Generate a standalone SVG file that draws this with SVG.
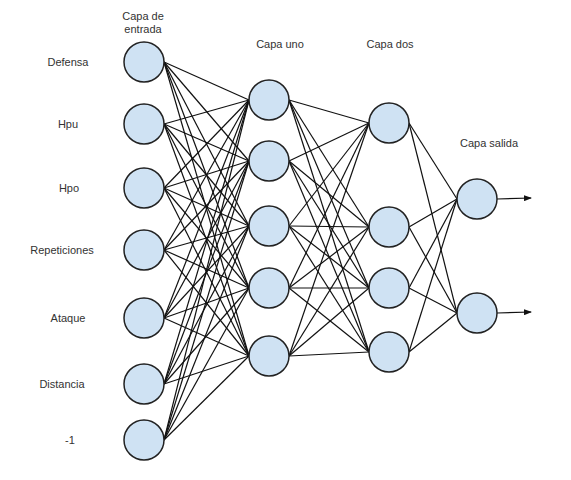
<svg xmlns="http://www.w3.org/2000/svg" width="571" height="480" viewBox="0 0 571 480">
<style>
.n{fill:#cfe2f3;stroke:#222;stroke-width:1.5}
.c line{stroke:#111;stroke-width:1.2}
text{font-family:"Liberation Sans",Arial,sans-serif;font-size:11px;fill:#333;text-anchor:middle}
</style>
<defs>
<marker id="ah" markerWidth="8" markerHeight="6" refX="7" refY="3" orient="auto" markerUnits="userSpaceOnUse">
<path d="M0,0 L8,3 L0,6 Z" fill="#111"/>
</marker>
</defs>
<rect width="571" height="480" fill="#fff"/>
<g id="connectors" class="c">
<line x1="164" y1="62" x2="249" y2="100"/><line x1="164" y1="62" x2="249" y2="161"/><line x1="164" y1="62" x2="249" y2="226"/><line x1="164" y1="62" x2="249" y2="288"/><line x1="164" y1="62" x2="249" y2="356"/>
<line x1="164" y1="124" x2="249" y2="100"/><line x1="164" y1="124" x2="249" y2="161"/><line x1="164" y1="124" x2="249" y2="226"/><line x1="164" y1="124" x2="249" y2="288"/><line x1="164" y1="124" x2="249" y2="356"/>
<line x1="164" y1="188" x2="249" y2="100"/><line x1="164" y1="188" x2="249" y2="161"/><line x1="164" y1="188" x2="249" y2="226"/><line x1="164" y1="188" x2="249" y2="288"/><line x1="164" y1="188" x2="249" y2="356"/>
<line x1="164" y1="250" x2="249" y2="100"/><line x1="164" y1="250" x2="249" y2="161"/><line x1="164" y1="250" x2="249" y2="226"/><line x1="164" y1="250" x2="249" y2="288"/><line x1="164" y1="250" x2="249" y2="356"/>
<line x1="164" y1="318" x2="249" y2="100"/><line x1="164" y1="318" x2="249" y2="161"/><line x1="164" y1="318" x2="249" y2="226"/><line x1="164" y1="318" x2="249" y2="288"/><line x1="164" y1="318" x2="249" y2="356"/>
<line x1="164" y1="384" x2="249" y2="100"/><line x1="164" y1="384" x2="249" y2="161"/><line x1="164" y1="384" x2="249" y2="226"/><line x1="164" y1="384" x2="249" y2="288"/><line x1="164" y1="384" x2="249" y2="356"/>
<line x1="164" y1="440" x2="249" y2="100"/><line x1="164" y1="440" x2="249" y2="161"/><line x1="164" y1="440" x2="249" y2="226"/><line x1="164" y1="440" x2="249" y2="288"/><line x1="164" y1="440" x2="249" y2="356"/>
<line x1="289" y1="100" x2="369" y2="123"/><line x1="289" y1="100" x2="369" y2="227"/><line x1="289" y1="100" x2="369" y2="288"/><line x1="289" y1="100" x2="369" y2="352"/>
<line x1="289" y1="161" x2="369" y2="123"/><line x1="289" y1="161" x2="369" y2="227"/><line x1="289" y1="161" x2="369" y2="288"/><line x1="289" y1="161" x2="369" y2="352"/>
<line x1="289" y1="226" x2="369" y2="123"/><line x1="289" y1="226" x2="369" y2="227"/><line x1="289" y1="226" x2="369" y2="288"/><line x1="289" y1="226" x2="369" y2="352"/>
<line x1="289" y1="288" x2="369" y2="123"/><line x1="289" y1="288" x2="369" y2="227"/><line x1="289" y1="288" x2="369" y2="288"/><line x1="289" y1="288" x2="369" y2="352"/>
<line x1="289" y1="356" x2="369" y2="123"/><line x1="289" y1="356" x2="369" y2="227"/><line x1="289" y1="356" x2="369" y2="288"/><line x1="289" y1="356" x2="369" y2="352"/>
<line x1="409" y1="123" x2="457" y2="199"/><line x1="409" y1="123" x2="457" y2="313"/>
<line x1="409" y1="227" x2="457" y2="199"/><line x1="409" y1="227" x2="457" y2="313"/>
<line x1="409" y1="288" x2="457" y2="199"/><line x1="409" y1="288" x2="457" y2="313"/>
<line x1="409" y1="352" x2="457" y2="199"/><line x1="409" y1="352" x2="457" y2="313"/>
<line x1="497" y1="199" x2="531" y2="198" marker-end="url(#ah)"/>
<line x1="497" y1="313" x2="531" y2="312" marker-end="url(#ah)"/>
</g>
<g id="labels">
<text x="143" y="20">Capa de</text>
<text x="143" y="33">entrada</text>
<text x="280" y="48">Capa uno</text>
<text x="390" y="48">Capa dos</text>
<text x="489" y="147">Capa salida</text>
</g>
<g id="in1"><circle class="n" cx="144" cy="62" r="20"/><text x="68" y="66">Defensa</text></g>
<g id="in2"><circle class="n" cx="144" cy="124" r="20"/><text x="68" y="128">Hpu</text></g>
<g id="in3"><circle class="n" cx="144" cy="188" r="20"/><text x="69" y="192">Hpo</text></g>
<g id="in4"><circle class="n" cx="144" cy="250" r="20"/><text x="62" y="254">Repeticiones</text></g>
<g id="in5"><circle class="n" cx="144" cy="318" r="20"/><text x="68" y="322">Ataque</text></g>
<g id="in6"><circle class="n" cx="144" cy="384" r="20"/><text x="62" y="388">Distancia</text></g>
<g id="in7"><circle class="n" cx="144" cy="440" r="20"/><text x="70" y="444">-1</text></g>
<g id="h1"><circle class="n" cx="269" cy="100" r="20"/></g>
<g id="h2"><circle class="n" cx="269" cy="161" r="20"/></g>
<g id="h3"><circle class="n" cx="269" cy="226" r="20"/></g>
<g id="h4"><circle class="n" cx="269" cy="288" r="20"/></g>
<g id="h5"><circle class="n" cx="269" cy="356" r="20"/></g>
<g id="g1"><circle class="n" cx="389" cy="123" r="20"/></g>
<g id="g2"><circle class="n" cx="389" cy="227" r="20"/></g>
<g id="g3"><circle class="n" cx="389" cy="288" r="20"/></g>
<g id="g4"><circle class="n" cx="389" cy="352" r="20"/></g>
<g id="o1"><circle class="n" cx="477" cy="199" r="20"/></g>
<g id="o2"><circle class="n" cx="477" cy="313" r="20"/></g>
</svg>
